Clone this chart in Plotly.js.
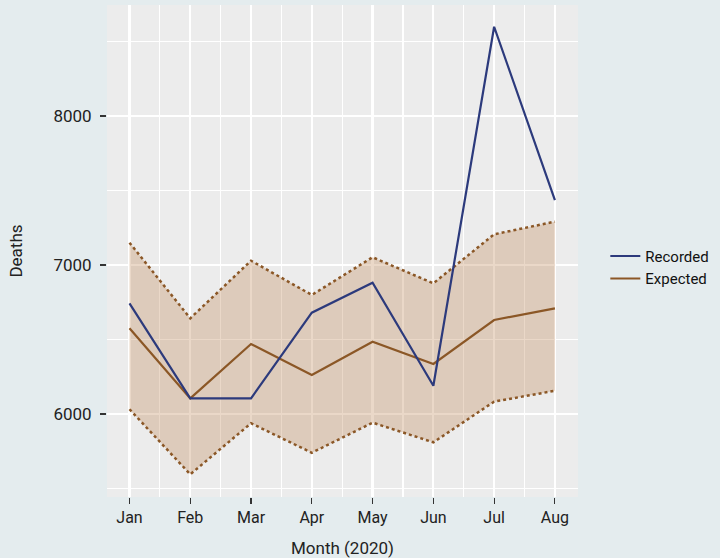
<!DOCTYPE html>
<html>
<head>
<meta charset="utf-8">
<script src="https://cdn.plot.ly/plotly-3.0.1.min.js"></script>
<style>
  html, body { margin: 0; padding: 0; background: #e4ecee; }
  #chart { width: 720px; height: 558px; }
</style>
</head>
<body>
<div id="chart"></div>
<script>
var months = ['Jan', 'Feb', 'Mar', 'Apr', 'May', 'Jun', 'Jul', 'Aug'];
var recorded = [6743, 6105, 6105, 6680, 6881, 6190, 8599, 7436];
var expected = [6575, 6105, 6470, 6262, 6485, 6336, 6631, 6709];
var upper = [7150, 6642, 7029, 6799, 7052, 6877, 7206, 7291];
var lower = [6032, 5595, 5938, 5740, 5942, 5810, 6083, 6156];
var yTicks = [6000, 7000, 8000];

var idx = months.map(function (m, i) { return i; });
var mid = idx.slice(0, -1).map(function (i) { return i + 0.5; });

var brown = '#8b5726';
var navy = '#2c3a7c';
var font = 'Roboto, Arial, sans-serif';

var data = [
  {
    x: idx, y: lower, type: 'scatter', mode: 'lines',
    line: { color: brown, width: 2.5, dash: 'dot' },
    showlegend: false, hoverinfo: 'skip'
  },
  {
    x: idx, y: upper, type: 'scatter', mode: 'lines',
    fill: 'tonexty', fillcolor: 'rgba(192,138,88,0.33)',
    line: { color: brown, width: 2.5, dash: 'dot' },
    showlegend: false, hoverinfo: 'skip'
  },
  {
    x: idx, y: expected, type: 'scatter', mode: 'lines', name: 'Expected',
    line: { color: brown, width: 2.2 }
  },
  {
    x: idx, y: recorded, type: 'scatter', mode: 'lines', name: 'Recorded',
    line: { color: navy, width: 2.2 }
  }
];

var layout = {
  width: 720,
  height: 558,
  paper_bgcolor: '#e4ecee',
  plot_bgcolor: '#ececec',
  font: { family: font, size: 16, color: '#222' },
  margin: { l: 107, r: 142, t: 5, b: 61 },
  showlegend: true,
  legend: {
    x: 1.058, xanchor: 'left',
    y: 0.467, yanchor: 'middle',
    traceorder: 'reversed',
    bgcolor: 'rgba(0,0,0,0)',
    font: { family: font, size: 15, color: '#111' }
  },
  xaxis: {
    range: [-0.37, 7.38],
    tickmode: 'array',
    tickvals: idx,
    ticktext: months,
    showgrid: true,
    gridcolor: '#ffffff',
    gridwidth: 2.2,
    zeroline: false,
    showline: false,
    ticks: 'outside',
    ticklen: 6,
    tickwidth: 1.1,
    tickcolor: '#333',
    tickfont: { family: font, size: 16, color: '#222' },
    minor: { tickmode: 'array', tickvals: mid, showgrid: true, gridcolor: '#ffffff', gridwidth: 1.1, ticks: '' },
    title: { text: 'Month (2020)', standoff: 16, font: { family: font, size: 17, color: '#222' } }
  },
  yaxis: {
    range: [5443, 8745],
    tickmode: 'array',
    tickvals: yTicks,
    showgrid: true,
    gridcolor: '#ffffff',
    gridwidth: 2.2,
    zeroline: false,
    showline: false,
    ticks: 'outside',
    ticklen: 6,
    tickwidth: 1.1,
    tickcolor: '#333',
    ticklabelstandoff: 5,
    tickfont: { family: font, size: 17, color: '#222' },
    minor: { dtick: 500, tick0: 5500, showgrid: true, gridcolor: '#ffffff', gridwidth: 1.1, ticks: '' },
    title: { text: 'Deaths', standoff: 26, font: { family: font, size: 17, color: '#222' } }
  }
};

Plotly.newPlot('chart', data, layout, { displayModeBar: false, staticPlot: true });
</script>
</body>
</html>
